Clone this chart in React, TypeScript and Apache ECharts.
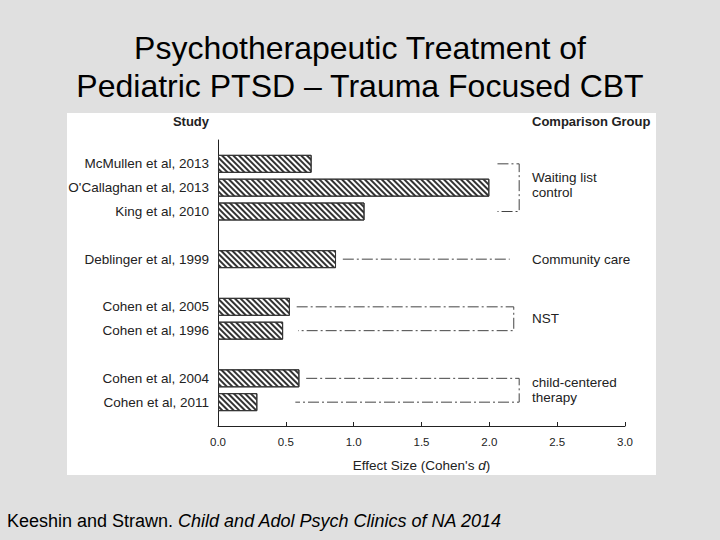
import React, { useEffect, useRef } from 'react';
import * as echarts from 'echarts';

// ---- Data ----
const studies = [
  'McMullen et al, 2013',
  "O'Callaghan et al, 2013",
  'King et al, 2010',
  'Deblinger et al, 1999',
  'Cohen et al, 2005',
  'Cohen et al, 1996',
  'Cohen et al, 2004',
  'Cohen et al, 2011',
];
const effectSizes = [0.69, 2.0, 1.08, 0.87, 0.53, 0.48, 0.6, 0.29];
const studyGroup = [0, 0, 0, 1, 2, 2, 3, 3];
const comparisonGroups = ['Waiting list\ncontrol', 'Community care', 'NST', 'child-centered\ntherapy'];
// where each dash-dot connector starts (effect-size units) and where each group's bracket stands
const connectorStart = [2.06, 2.06, 2.06, 0.92, 0.58, 0.59, 0.65, 0.57];
const bracketX = [2.22, 2.15, 2.18, 2.22];

const FONT = "'Liberation Sans', Arial, Helvetica, sans-serif";

// build category rows with blank separators between groups
const categories: string[] = [''];
const rowOf: number[] = [];
comparisonGroups.forEach((_, g) => {
  studies.forEach((s, i) => {
    if (studyGroup[i] === g) {
      rowOf[i] = categories.length;
      categories.push(s);
    }
  });
  categories.push('');
});
const barData = categories.map((_, r) => {
  const i = rowOf.indexOf(r);
  return i >= 0 ? effectSizes[i] : '-';
});

function groupPaths() {
  return comparisonGroups.map((_, g) => {
    const idx = studies.map((_, i) => i).filter((i) => studyGroup[i] === g);
    const first = idx[0];
    const last = idx[idx.length - 1];
    if (first === last) {
      return [
        [connectorStart[first], rowOf[first]],
        [bracketX[g], rowOf[first]],
      ];
    }
    return [
      [connectorStart[first], rowOf[first]],
      [bracketX[g], rowOf[first]],
      [bracketX[g], rowOf[last]],
      [connectorStart[last], rowOf[last]],
    ];
  });
}

export default function App() {
  const ref = useRef<HTMLDivElement>(null);
  useEffect(() => {
    if (!ref.current) return;
    const chart = echarts.init(ref.current, undefined, { renderer: 'svg' });
    const paths = groupPaths();
    const option: any = {
      animation: false,
      backgroundColor: '#e0e0e0',
      textStyle: { fontFamily: FONT },
      grid: { left: 218, right: 95, top: 140, bottom: 114, containLabel: false },
      xAxis: {
        type: 'value',
        min: 0,
        max: 3,
        interval: 0.5,
        splitLine: { show: false },
        axisLine: { show: true, lineStyle: { color: '#222', width: 1 } },
        axisTick: { show: true, inside: true, length: 4, lineStyle: { color: '#222' } },
        axisLabel: {
          formatter: (v: number) => v.toFixed(1),
          fontSize: 11.5,
          color: '#222',
          margin: 10,
          fontFamily: FONT,
        },
        name: "{a|Effect Size (Cohen's }{i|d}{a|)}",
        nameLocation: 'middle',
        nameGap: 32,
        nameTextStyle: {
          rich: {
            a: { fontSize: 13.5, color: '#222', fontFamily: FONT },
            i: { fontSize: 13.5, color: '#222', fontFamily: FONT, fontStyle: 'italic' },
          },
        },
      },
      yAxis: {
        type: 'category',
        data: categories,
        inverse: true,
        boundaryGap: false,
        axisLine: { show: true, lineStyle: { color: '#222', width: 1 } },
        axisTick: { show: false },
        splitLine: { show: false },
        axisLabel: { fontSize: 13.5, color: '#222', margin: 9, fontFamily: FONT, interval: 0 },
      },
      series: [
        {
          type: 'bar',
          data: barData,
          barWidth: 18,
          itemStyle: {
            color: '#ffffff',
            borderColor: '#333',
            borderWidth: 1,
            decal: {
              symbol: 'rect',
              symbolSize: 1,
              dashArrayX: [1, 0],
              dashArrayY: [1.3, 1.6],
              rotation: Math.PI / 4,
              color: '#333',
            },
          },
          silent: true,
        },
        ...paths.map((p) => ({
          type: 'line',
          data: p,
          showSymbol: false,
          symbol: 'none',
          silent: true,
          lineStyle: { color: '#444', width: 1, type: [11, 3, 2, 3] },
          z: 3,
        })),
      ],
      graphic: [],
    };
    chart.setOption(option);

    // comparison-group labels placed at the middle of each group's rows
    const labels = comparisonGroups.map((name, g) => {
      const idx = studies.map((_, i) => i).filter((i) => studyGroup[i] === g);
      const y1 = chart.convertToPixel({ gridIndex: 0 } as any, [0, rowOf[idx[0]]]) as number[];
      const y2 = chart.convertToPixel({ gridIndex: 0 } as any, [0, rowOf[idx[idx.length - 1]]]) as number[];
      return {
        type: 'text',
        x: 532,
        y: (y1[1] + y2[1]) / 2 - (g === 0 ? 3 : 0),
        style: {
          text: name,
          fontSize: 13.5,
          lineHeight: 15,
          fill: '#222',
          fontFamily: FONT,
          textAlign: 'left',
          textVerticalAlign: 'middle',
        },
      };
    });

    chart.setOption({
      graphic: [
        {
          type: 'rect',
          z: -10,
          shape: { x: 67, y: 113, width: 589, height: 362 },
          style: { fill: '#ffffff' },
          silent: true,
        },
        {
          type: 'text',
          x: 360,
          y: 67,
          style: {
            text: 'Psychotherapeutic Treatment of\nPediatric PTSD – Trauma Focused CBT',
            fontSize: 32,
            lineHeight: 38,
            fill: '#000',
            fontFamily: FONT,
            textAlign: 'center',
            textVerticalAlign: 'middle',
          },
        },
        {
          type: 'text',
          x: 209,
          y: 121,
          style: {
            text: 'Study',
            fontSize: 13,
            fontWeight: 'bold',
            fill: '#222',
            fontFamily: FONT,
            textAlign: 'right',
            textVerticalAlign: 'middle',
          },
        },
        {
          type: 'text',
          x: 532,
          y: 121,
          style: {
            text: 'Comparison Group',
            fontSize: 13,
            fontWeight: 'bold',
            fill: '#222',
            fontFamily: FONT,
            textAlign: 'left',
            textVerticalAlign: 'middle',
          },
        },
        {
          type: 'text',
          x: 7,
          y: 521,
          style: {
            text: '{n|Keeshin and Strawn. }{i|Child and Adol Psych Clinics of NA 2014}',
            textVerticalAlign: 'middle',
            rich: {
              n: { fontSize: 18, fill: '#000', fontFamily: FONT },
              i: { fontSize: 18, fill: '#000', fontFamily: FONT, fontStyle: 'italic' },
            },
          },
        },
        ...labels,
      ],
    });

    return () => chart.dispose();
  }, []);

  return (
    <div
      ref={ref}
      style={{ position: 'absolute', left: 0, top: 0, width: 720, height: 540 }}
    />
  );
}
